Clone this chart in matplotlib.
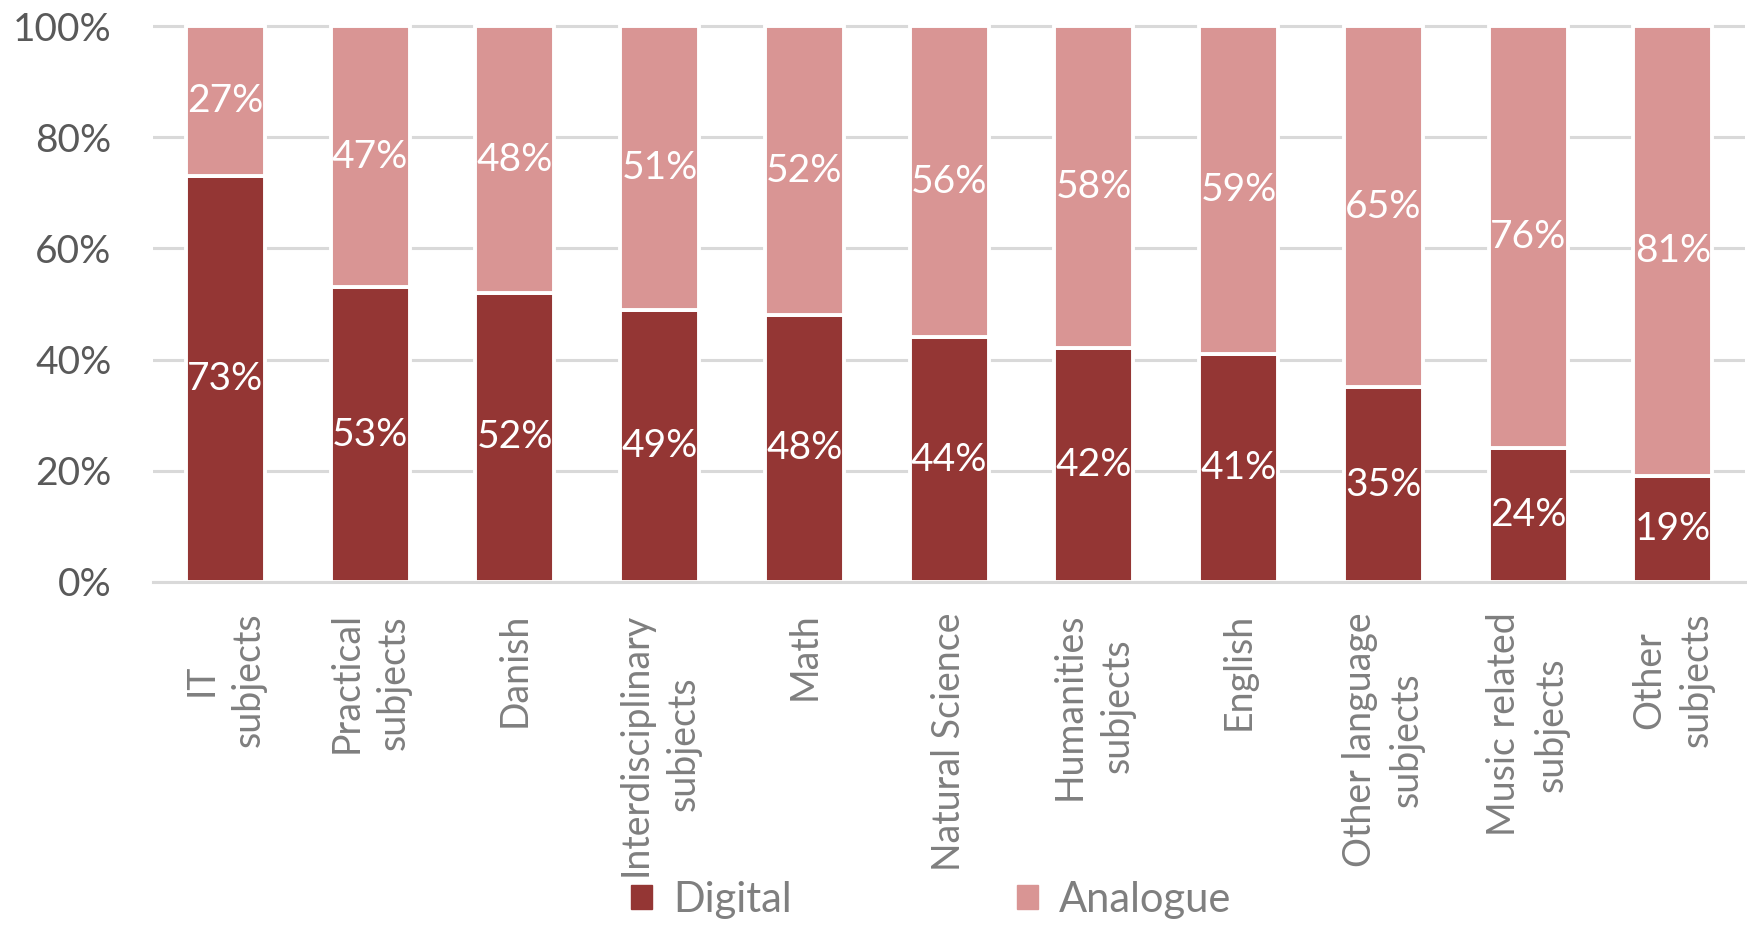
import matplotlib
matplotlib.use("Agg")
import matplotlib.pyplot as plt
from matplotlib.patches import Patch
from matplotlib.ticker import PercentFormatter

plt.rcParams['font.family'] = ['Lato', 'DejaVu Sans']

subjects = ["IT\nsubjects", "Practical\nsubjects", "Danish", "Interdisciplinary\nsubjects",
            "Math", "Natural Science", "Humanities\nsubjects", "English",
            "Other language\nsubjects", "Music related\nsubjects", "Other\nsubjects"]
digital = [73, 53, 52, 49, 48, 44, 42, 41, 35, 24, 19]
analogue = [27, 47, 48, 51, 52, 56, 58, 59, 65, 76, 81]

c_dig = "#943634"
c_ana = "#D99594"

fig = plt.figure(figsize=(17.47, 9.25), dpi=100)
ax = fig.add_axes([0.0876, 0.371, 0.9114, 0.603])

x = range(len(subjects))
dig = [v / 100 for v in digital]
ana = [v / 100 for v in analogue]
b1 = ax.bar(x, dig, width=0.545, color=c_dig, edgecolor="white", linewidth=2.8, zorder=2)
b2 = ax.bar(x, ana, bottom=dig, width=0.545, color=c_ana, edgecolor="white", linewidth=2.8, zorder=2)

for bars, vals in ((b1, digital), (b2, analogue)):
    ax.bar_label(bars, labels=[f"{v}%" for v in vals], label_type="center",
                 color="white", fontsize=28, zorder=3)

ax.set_xlim(-0.5, len(subjects) - 0.5)
ax.set_ylim(0, 1.004)
ax.set_yticks([0, 0.2, 0.4, 0.6, 0.8, 1.0])
ax.yaxis.set_major_formatter(PercentFormatter(1.0, decimals=0))
ax.grid(axis="y", color="#D9D9D9", linewidth=2.2, zorder=0)
ax.set_axisbelow(True)

for s in ("top", "right", "left"):
    ax.spines[s].set_visible(False)
ax.spines["bottom"].set_color("#D9D9D9")
ax.spines["bottom"].set_linewidth(2.2)
ax.spines["bottom"].set_zorder(4)

ax.tick_params(axis="y", length=0, pad=30, labelsize=28, labelcolor="#595959")
ax.tick_params(axis="x", length=0, pad=22)
ax.set_xticks(list(x))
ax.set_xticklabels(subjects, rotation=90, ha="center", va="top", multialignment="center",
                   fontsize=27, color="#7F7F7F", linespacing=1.4)

handles = [Patch(color=c_dig, label="Digital"), Patch(color=c_ana, label="Analogue")]
fig.legend(handles=handles, loc="center", bbox_to_anchor=(0.533, 0.027), ncol=2, frameon=False,
           fontsize=30, labelcolor="#7F7F7F", handlelength=0.5, handleheight=0.5,
           handletextpad=0.5, columnspacing=5.4)

fig.savefig("out.png", dpi=100)
